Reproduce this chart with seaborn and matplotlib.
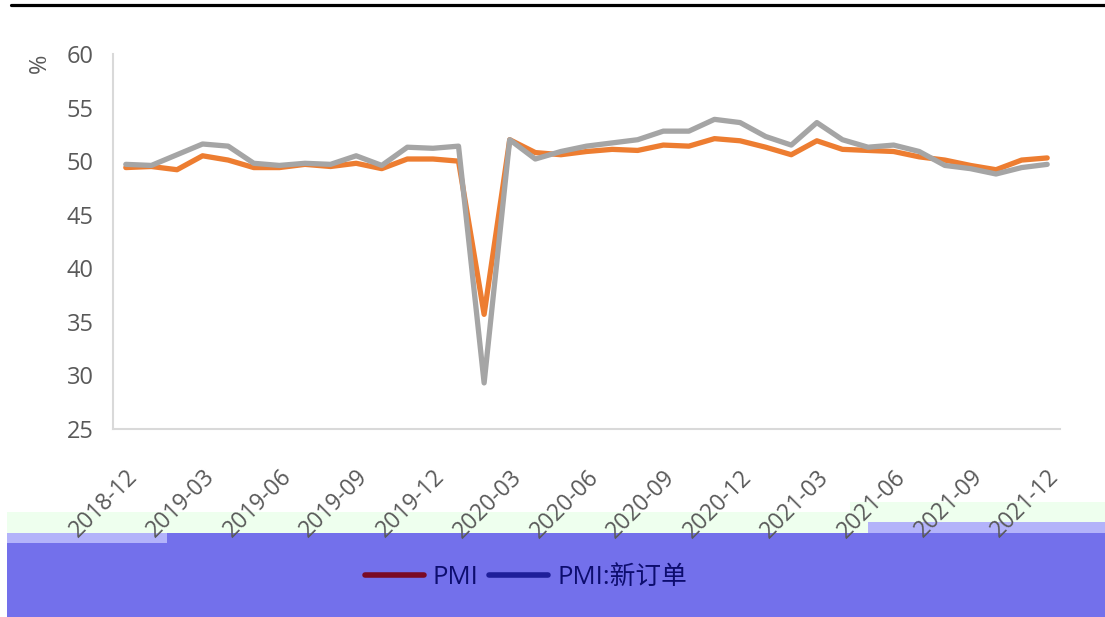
import numpy as np
import pandas as pd
import matplotlib
matplotlib.use("Agg")
import matplotlib.pyplot as plt
import matplotlib.transforms as mtransforms
from matplotlib.lines import Line2D
from matplotlib.patches import Rectangle
import seaborn as sns

# ---------------- data ----------------
months = list(pd.period_range("2018-12", "2021-12", freq="M").strftime("%Y-%m"))
pmi = [49.4, 49.5, 49.2, 50.5, 50.1, 49.4, 49.4, 49.7, 49.5, 49.8, 49.3, 50.2, 50.2,
       50.0, 35.7, 52.0, 50.8, 50.6, 50.9, 51.1, 51.0, 51.5, 51.4, 52.1, 51.9,
       51.3, 50.6, 51.9, 51.1, 51.0, 50.9, 50.4, 50.1, 49.6, 49.2, 50.1, 50.3]
new_orders = [49.7, 49.6, 50.6, 51.6, 51.4, 49.8, 49.6, 49.8, 49.7, 50.5, 49.6, 51.3, 51.2,
              51.4, 29.3, 52.0, 50.2, 50.9, 51.4, 51.7, 52.0, 52.8, 52.8, 53.9, 53.6,
              52.3, 51.5, 53.6, 52.0, 51.3, 51.5, 50.9, 49.6, 49.3, 48.8, 49.4, 49.7]
series_names = ["PMI", "PMI:新订单"]
yticks = [25, 30, 35, 40, 45, 50, 55, 60]

df = pd.DataFrame({
    "month": months * 2,
    "value": pmi + new_orders,
    "series": [series_names[0]] * len(months) + [series_names[1]] * len(months),
})

# ---------------- style ----------------
sns.set_style("white")
plt.rcParams["font.family"] = ["Open Sans", "Noto Sans CJK SC", "DejaVu Sans"]
txt_col = "#595959"
axis_col = "#D9D9D9"

W, H = 1105, 617
fig = plt.figure(figsize=(W / 100, H / 100), dpi=100)

def fx(px):
    return px / W

def fy(py):
    return 1 - py / H

# decorative background bands (below axes)
def frect(x0, y0, x1, y1, color, z=-5):
    fig.patches.append(Rectangle((fx(x0), fy(y1)), fx(x1) - fx(x0), fy(y0) - fy(y1),
                                 transform=fig.transFigure, facecolor=color,
                                 edgecolor="none", zorder=z))

frect(7, 512, 868, 533, "#EEFFEE")
frect(850, 502, 1105, 522, "#EEFFEE")
frect(7, 533, 1105, 617, "#7370EB")
frect(7, 533, 167, 543, "#B3B3FA", z=-4)
frect(868, 522, 1105, 533, "#B3B3FA", z=-4)

ax = fig.add_axes([fx(113), fy(429), fx(1060) - fx(113), fy(54) - fy(429)])
ax.patch.set_alpha(0)
ax.set_zorder(2)

sns.lineplot(data=df, x="month", y="value", hue="series", hue_order=series_names,
             palette=["#ED7D31", "#A5A5A5"], linewidth=3.8, ax=ax, legend=False,
             sort=False)
for ln in ax.get_lines():
    ln.set_solid_joinstyle("round")
    ln.set_solid_capstyle("round")

n = len(months)
ax.set_xlim(-0.5, n - 0.5)
ax.set_ylim(25, 60)
ax.set_yticks(yticks)
ax.set_yticklabels([str(v) for v in yticks])

# major ticks at category boundaries, labels at category centers (minor)
ax.set_xticks(np.arange(-0.5, n - 1, 3))
ax.set_xticklabels([])
ax.set_xticks(np.arange(0, n, 3), minor=True)
ax.set_xticklabels(months[::3], minor=True)
ax.tick_params(axis="x", which="major", length=8, width=1.5, color=axis_col, direction="out")
ax.tick_params(axis="x", which="minor", length=0, pad=26, labelsize=16.5, labelcolor=txt_col)
ax.tick_params(axis="y", length=8, width=1.5, color=axis_col, direction="out",
               pad=6, labelsize=17, labelcolor=txt_col)
offset = mtransforms.ScaledTranslation(0 / 100, 0, fig.dpi_scale_trans)
for lab in ax.get_xticklabels(minor=True):
    lab.set_rotation(45)
    lab.set_ha("right")
    lab.set_va("top")
    lab.set_rotation_mode("anchor")
    lab.set_transform(lab.get_transform() + offset)

for s in ["top", "right"]:
    ax.spines[s].set_visible(False)
for s in ["left", "bottom"]:
    ax.spines[s].set_color(axis_col)
    ax.spines[s].set_linewidth(1.5)

ax.set_xlabel("")
ax.set_ylabel("%", fontsize=17, color=txt_col)
ax.yaxis.set_label_coords(fx(52 - 113) / (fx(1060) - fx(113)), 0.975)

# top rule
fig.add_artist(Line2D([fx(11), 1], [fy(4.5), fy(4.5)], transform=fig.transFigure,
                      color="black", linewidth=2.3))

# legend (handle colours as in reference)
handles = [Line2D([], [], color="#7A0A24", linewidth=4, solid_capstyle="round"),
           Line2D([], [], color="#1E1E9A", linewidth=4, solid_capstyle="round")]
leg = fig.legend(handles, series_names, loc="center", bbox_to_anchor=(fx(526), fy(577)),
                 ncol=2, frameon=False, fontsize=18.5, handlelength=2.3,
                 handletextpad=0.35, columnspacing=0.4)
for t in leg.get_texts():
    t.set_color("#0D0D6E")

fig.savefig("out.png", dpi=100)
